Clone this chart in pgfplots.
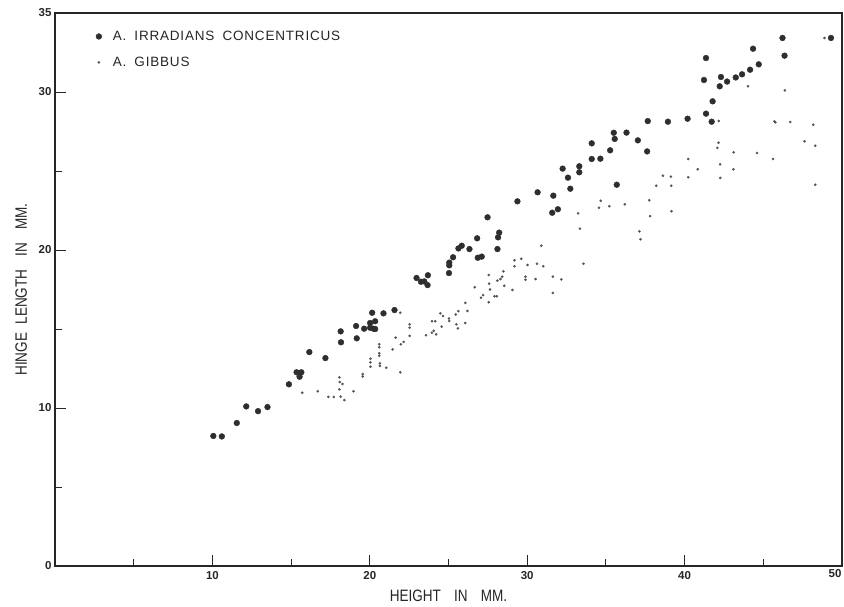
\documentclass[border=0pt]{standalone}
\usepackage{pgfplots}
\pgfplotsset{compat=1.18}
\usepackage{fontspec}
\setmainfont{Liberation Sans}
\newfontfamily\lbl[FakeStretch=0.82]{Liberation Sans}
\newfontfamily\wide[LetterSpace=6]{Liberation Sans}
\definecolor{dotc}{HTML}{2E2E2E}
\definecolor{smallc}{HTML}{555555}
\begin{document}
\begin{tikzpicture}
\begin{axis}[
  at={(55pt,40pt)}, anchor=south west,
  scale only axis, width=787pt, height=553pt,
  xmin=0, xmax=50, ymin=0, ymax=35,
  xtick={10,20,30,40}, minor xtick={5,15,25,35,45},
  extra x ticks={50}, extra x tick style={major tick length=0pt, tick label style={xshift=-7pt, yshift=2pt}},
  ytick={0,10,20,30,35}, minor ytick={5,15,25},
  tick pos=left, tick align=inside,
  major tick length=11pt, minor tick length=7pt,
  every tick/.style={black!85, line width=0.9pt},
  axis line style={black!85, line width=1.1pt},
  /pgf/number format/assume math mode=true,
  tick label style={font=\bfseries\fontsize{11.5}{11.5}\selectfont, black!85},
  xticklabel style={yshift=-2pt},
  xlabel={\lbl\fontsize{16.5}{16.5}\selectfont HEIGHT\hspace{0.8em}IN\hspace{0.8em}MM.},
  ylabel={\lbl\fontsize{16.5}{16.5}\selectfont HINGE\hspace{0.5em}LENGTH\hspace{0.8em}IN\hspace{0.8em}MM.},
  xlabel style={at={(axis description cs:0.5,-0.054)}, anchor=center, black!85},
  ylabel style={at={(axis description cs:-0.043,0.5)}, anchor=center, black!85},
  legend style={at={(axis description cs:0.048,0.975)}, anchor=north west, draw=none, fill=none,
    font=\wide\fontsize{13.5}{13.5}\selectfont, row sep=11pt, text=black!85,
    /tikz/every odd column/.append style={column sep=9pt}},
  legend cell align=left,
]
\addplot[only marks, mark=*, mark size=2.9pt, color=dotc] coordinates {
(10.06,8.23) (10.6,8.2) (11.55,9.05) (12.15,10.1) (12.9,9.8) (13.5,10.06)
(14.86,11.5) (15.35,12.26) (15.65,12.26) (15.54,11.98) (16.16,13.54) (17.18,13.16)
(18.15,14.85) (18.17,14.16) (19.13,15.19) (19.17,14.41) (19.64,15.02) (20.02,15.38)
(20.02,15.08) (20.23,15.02) (20.34,15.0) (20.15,16.03) (20.34,15.49) (20.87,15.99)
(21.57,16.2) (22.97,18.23) (23.25,17.99) (23.46,18.01) (23.69,18.4) (23.67,17.78)
(25.03,18.54) (25.05,19.03) (25.05,19.2) (25.29,19.54) (25.63,20.1) (25.84,20.27)
(26.33,20.06) (26.82,20.74) (26.86,19.51) (27.11,19.58) (28.11,20.06) (28.15,20.8)
(28.22,21.1) (27.48,22.07) (29.38,23.08) (30.66,23.65) (31.66,23.44) (31.59,22.36)
(31.95,22.58) (32.25,25.15) (32.59,24.58) (32.74,23.88) (33.31,25.3) (33.31,24.92)
(34.1,26.75) (34.1,25.76) (34.65,25.78) (35.27,26.31) (35.5,27.42) (35.56,27.03)
(35.69,24.13) (36.31,27.43) (37.03,26.94) (37.62,26.24) (37.66,28.16) (38.94,28.12)
(40.19,28.31) (41.36,32.15) (41.23,30.76) (41.36,28.63) (41.72,28.12) (41.78,29.41)
(42.23,30.36) (42.31,30.95) (42.7,30.66) (43.25,30.92) (43.65,31.12) (44.16,31.41)
(44.35,32.74) (44.71,31.75) (46.22,33.42) (46.35,32.3) (49.3,33.42)
};
\addlegendentry{A.\hspace{0.6em}IRRADIANS\hspace{0.6em}CONCENTRICUS}
\addplot[only marks, mark=*, mark size=1.1pt, color=smallc] coordinates {
(15.71,10.97) (16.69,11.06) (17.37,10.7) (17.71,10.7) (18.07,11.94) (18.09,11.65)
(18.26,11.52) (18.07,11.18) (18.15,10.72) (18.39,10.5) (18.96,11.06) (19.55,12.15)
(19.55,12.0) (20.04,13.12) (20.04,12.89) (20.04,12.61) (20.6,14.03) (20.6,13.84)
(20.6,13.46) (20.6,13.31) (20.64,12.83) (20.64,12.66) (21.04,12.55) (21.45,13.71)
(21.64,14.45) (21.94,12.26) (21.97,14.03) (22.15,14.18) (21.94,16.03) (22.53,15.3)
(22.53,15.08) (22.53,14.56) (23.57,14.6) (23.95,15.49) (24.16,15.49) (23.95,14.77)
(24.06,14.89) (24.22,14.66) (24.48,15.99) (24.65,15.82) (24.57,15.15) (25.03,15.67)
(25.05,15.51) (25.46,15.92) (25.5,15.3) (25.6,15.04) (25.63,16.13) (26.07,16.65)
(26.07,15.38) (26.2,16.14) (26.67,17.64) (27.07,16.98) (27.2,17.15) (27.56,18.42)
(27.58,17.87) (27.56,16.69) (27.64,17.5) (27.92,17.07) (28.07,17.07) (28.11,18.06)
(28.3,18.16) (28.41,18.31) (28.49,18.65) (28.54,17.74) (29.06,17.47) (29.19,19.35)
(29.19,18.97) (29.62,19.45) (29.89,18.31) (29.89,18.12) (30.02,19.05) (30.53,18.16)
(30.62,19.13) (31.02,18.97) (30.9,20.27) (31.63,18.31) (31.63,17.28) (32.17,18.14)
(33.57,19.13) (33.23,22.32) (33.35,21.35) (34.67,23.12) (34.56,22.68) (35.22,22.77)
(36.2,22.89) (37.13,21.18) (37.2,20.68) (37.75,23.15) (37.81,22.15) (38.2,24.07)
(38.62,24.7) (39.13,24.64) (39.15,24.07) (39.17,22.45) (40.23,25.76) (40.23,24.6)
(40.83,25.11) (42.17,28.16) (42.15,26.79) (42.08,26.46) (42.25,25.42) (42.27,24.56)
(43.12,26.18) (43.1,25.11) (44.03,30.36) (44.6,26.14) (45.61,25.76) (45.71,28.14)
(45.77,28.08) (46.37,30.1) (46.71,28.1) (47.62,26.88) (48.17,27.93) (48.3,26.6)
(48.3,24.13) (48.89,33.42)
};
\addlegendentry{A.\hspace{0.6em}GIBBUS}
\end{axis}
\pgfresetboundingbox
\path (0,0) rectangle (844pt,606pt);
\end{tikzpicture}
\end{document}
